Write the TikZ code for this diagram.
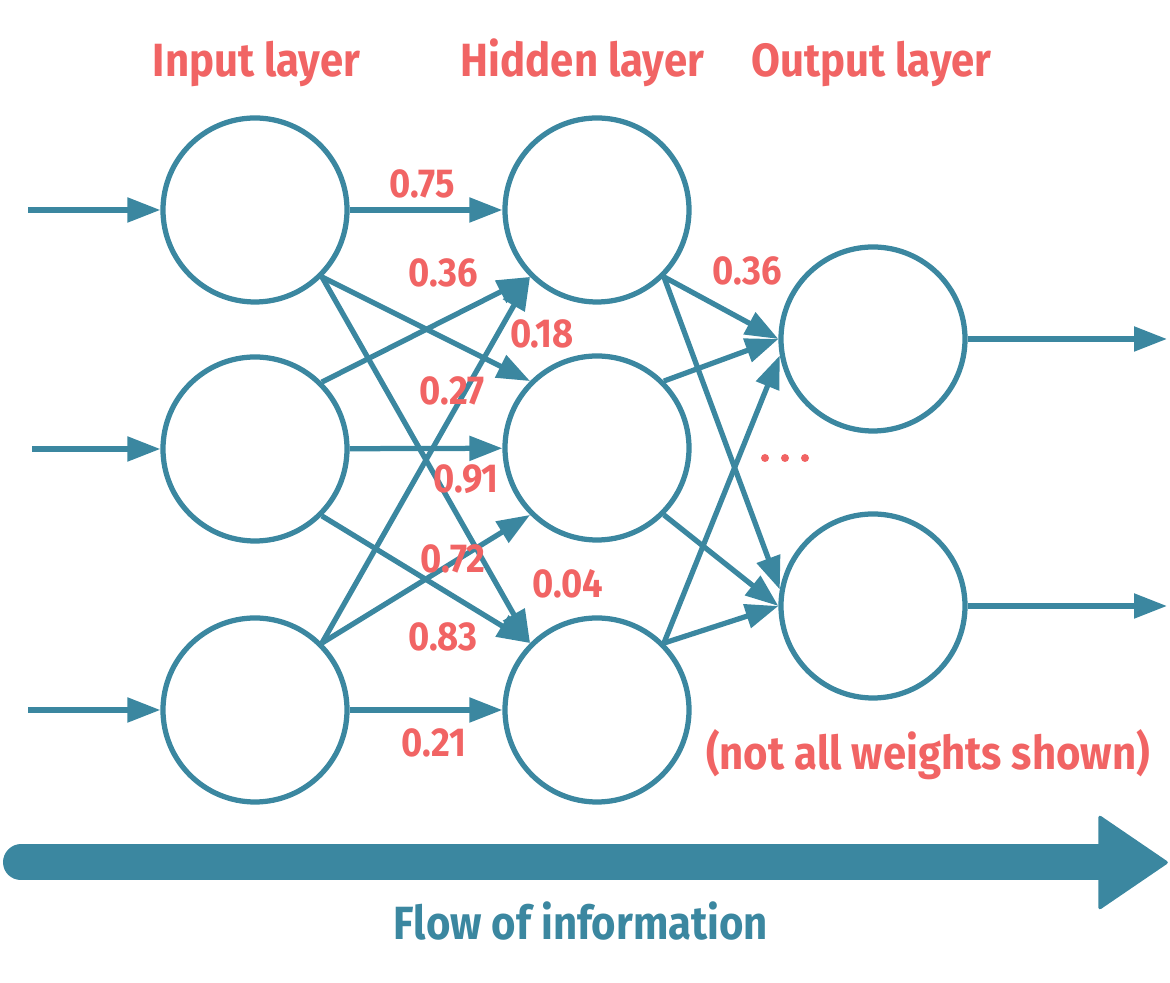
\documentclass[tikz,border=0pt]{standalone}
\usepackage{fontspec}
\setmainfont{Fira Sans}[FakeStretch=0.9]
\usepackage{xcolor}
\usepackage{tikz}
\usetikzlibrary{arrows.meta, positioning}

\definecolor{netteal}{RGB}{59,135,160}
\definecolor{netred}{RGB}{241,100,100}

\begin{document}
\begin{tikzpicture}[
  neuron/.style={circle, draw=netteal, line width=0.105cm,
                 minimum size=3.68cm, inner sep=0pt},
  conn/.style  ={draw=netteal, line width=0.105cm,
                 -{Triangle[length=0.66cm, width=0.48cm]}},
  weight/.style={font=\fontsize{23}{26}\selectfont\bfseries,
                 text=netred, inner sep=0pt},
  layer/.style ={font=\fontsize{26.5}{30}\selectfont\bfseries,
                 text=netred, anchor=base, inner sep=0pt},
]
  \useasboundingbox (0,0) rectangle (23.4,19.66);

  % === Layer titles ===
  \node[layer] (tin)  at (5.13, 18.12)  {Input layer};
  \node[layer] (thid) at (11.65, 18.12) {Hidden layer};
  \node[layer] (tout) at (17.43, 18.12) {Output layer};

  % === Neurons ===
  \node[neuron] (i1) at (5.10, 15.46) {};
  \node[neuron] (i2) at (5.10, 10.68) {};
  \node[neuron] (i3) at (5.10, 5.46)  {};

  \node[neuron] (h1) at (11.94, 15.46) {};
  \node[neuron] (h2) at (11.94, 10.70) {};
  \node[neuron] (h3) at (11.94, 5.46)  {};

  \node[neuron] (o1) at (17.46, 12.88) {};
  \node[neuron] (o2) at (17.46, 7.54)  {};

  % === Inputs and outputs ===
  \coordinate (x1) at (0.56, 15.46);
  \coordinate (x2) at (0.64, 10.68);
  \coordinate (x3) at (0.56, 5.46);
  \coordinate (y1) at (23.34, 12.88);
  \coordinate (y2) at (23.34, 7.54);

  \draw[conn] (x1) -- (i1);
  \draw[conn] (x2) -- (i2);
  \draw[conn] (x3) -- (i3);
  \draw[conn] (o1) -- (y1);
  \draw[conn] (o2) -- (y2);

  % === Input -> hidden ===
  \draw[conn] (i1) -- (h1);
  \draw[conn] (i1.south east) -- (h2.north west);
  \draw[conn] (i1.south east) -- (h3.north west);
  \draw[conn] (i2.north east) -- (h1.south west);
  \draw[conn] (i2) -- (h2);
  \draw[conn] (i2.south east) -- (h3.north west);
  \draw[conn] (i3.north east) -- (h1.south west);
  \draw[conn] (i3.north east) -- (h2.south west);
  \draw[conn] (i3) -- (h3);

  % === Hidden -> output ===
  \draw[conn] (h1.south east) -- (o1.west);
  \draw[conn] (h1.south east) -- (o2.170);
  \draw[conn] (h2.north east) -- (o1.west);
  \draw[conn] (h2.south east) -- (o2.west);
  \draw[conn] (h3.north east) -- (o1.190);
  \draw[conn] (h3.north east) -- (o2.west);

  % === Weights ===
  \node[weight] (w1)  at (8.44, 15.98)  {0.75};
  \node[weight] (w2)  at (8.86, 14.20)  {0.36};
  \node[weight] (w3)  at (10.84, 12.98) {0.18};
  \node[weight] (w4)  at (9.04, 11.84)  {0.27};
  \node[weight] (w5)  at (9.32, 10.08)  {0.91};
  \node[weight] (w6)  at (9.06, 8.48)   {0.72};
  \node[weight] (w7)  at (11.36, 7.98)  {0.04};
  \node[weight] (w8)  at (8.86, 6.92)   {0.83};
  \node[weight] (w9)  at (8.68, 4.80)   {0.21};
  \node[weight] (w10) at (14.94, 14.24) {0.36};

  % dots between the outputs
  \foreach \x in {15.3, 15.7, 16.1}
    \fill[netred] (\x, 10.5) circle (0.08);

  \node[layer] (note) at (18.56, 4.26) {(not all weights shown)};

  % === Flow arrow ===
  \draw[netteal, line width=0.72cm, line cap=round]
    (0.42, 2.41) -- (22.1, 2.41);
  \filldraw[netteal, line width=2pt, line join=round]
    (22.0, 3.31) -- (23.32, 2.41) -- (22.0, 1.51) -- cycle;
  \node[layer, text=netteal] (flow) at (11.62, 0.86)
    {Flow of information};

\end{tikzpicture}
\end{document}
